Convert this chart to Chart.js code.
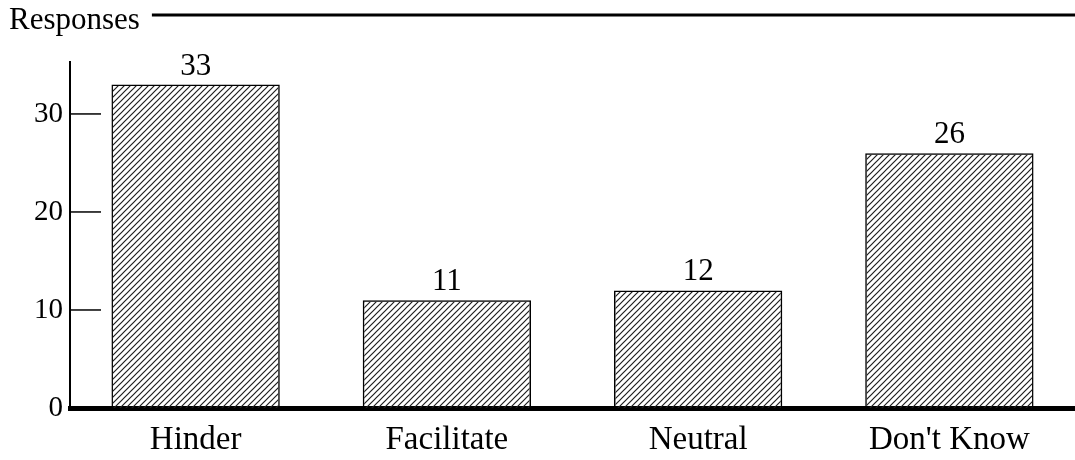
<!DOCTYPE html>
<html>
<head>
<meta charset="utf-8">
<script src="https://cdn.jsdelivr.net/npm/chart.js@4/dist/chart.umd.min.js"></script>
<style>
  html, body { margin: 0; padding: 0; background: #fff; overflow: hidden; }
  #wrap { width: 1075px; height: 460px; }
</style>
</head>
<body>
<div id="wrap"><canvas id="bar-chart" width="1075" height="460"></canvas></div>
<script>
// chart data
const categories = ['Hinder', 'Facilitate', 'Neutral', "Don't Know"];
const responses = [33, 11, 12, 26];
const yTicks = [0, 10, 20, 30];
const axisTitle = 'Responses';

const serif = "'Liberation Serif', 'Times New Roman', serif";

// diagonal hatch fill for the bars
function makeHatch() {
  const c = document.createElement('canvas');
  c.width = 6;
  c.height = 6;
  const g = c.getContext('2d');
  g.strokeStyle = '#1e1e1e';
  g.lineWidth = 1.2;
  g.beginPath();
  g.moveTo(-1, 7); g.lineTo(7, -1);
  g.moveTo(-1, 1); g.lineTo(1, -1);
  g.moveTo(5, 7); g.lineTo(7, 5);
  g.stroke();
  return g.createPattern(c, 'repeat');
}

// "Responses" heading + the rule running to the right edge
const headerPlugin = {
  id: 'header',
  afterDraw(chart) {
    const ctx = chart.ctx;
    ctx.save();
    ctx.fillStyle = '#000';
    ctx.font = '31px ' + serif;
    ctx.textBaseline = 'alphabetic';
    ctx.textAlign = 'left';
    ctx.fillText(axisTitle, 9, 29);
    const w = ctx.measureText(axisTitle).width;
    ctx.strokeStyle = '#000';
    ctx.lineWidth = 3;
    ctx.beginPath();
    ctx.moveTo(9 + w + 12, 15);
    ctx.lineTo(chart.width, 15);
    ctx.stroke();
    ctx.restore();
  }
};

// tick marks drawn inward from the y axis
const innerTicksPlugin = {
  id: 'innerTicks',
  afterDraw(chart) {
    const y = chart.scales.y;
    const ctx = chart.ctx;
    ctx.save();
    ctx.strokeStyle = '#000';
    ctx.lineWidth = 1.5;
    y.ticks.forEach(t => {
      if (t.value === 0) return;
      const py = y.getPixelForValue(t.value);
      ctx.beginPath();
      ctx.moveTo(chart.chartArea.left, py);
      ctx.lineTo(chart.chartArea.left + 31, py);
      ctx.stroke();
    });
    ctx.restore();
  }
};

// numbers above each bar
const valueLabelsPlugin = {
  id: 'valueLabels',
  afterDatasetsDraw(chart) {
    const ctx = chart.ctx;
    const meta = chart.getDatasetMeta(0);
    ctx.save();
    ctx.fillStyle = '#000';
    ctx.font = '31px ' + serif;
    ctx.textAlign = 'center';
    ctx.textBaseline = 'alphabetic';
    meta.data.forEach((bar, i) => {
      ctx.fillText(String(responses[i]), bar.x, bar.y - 10);
    });
    ctx.restore();
  }
};

const ctx = document.getElementById('bar-chart').getContext('2d');
new Chart(ctx, {
  type: 'bar',
  data: {
    labels: categories,
    datasets: [{
      label: axisTitle,
      data: responses,
      backgroundColor: makeHatch(),
      borderColor: '#000',
      borderWidth: 1.5,
      borderSkipped: 'bottom',
      barPercentage: 0.67,
      categoryPercentage: 1.0
    }]
  },
  options: {
    responsive: false,
    animation: false,
    events: [],
    layout: { padding: { top: 62, left: 0, right: 0, bottom: 0 } },
    plugins: {
      legend: { display: false },
      tooltip: { enabled: false },
      title: { display: false }
    },
    scales: {
      x: {
        grid: { display: false, drawTicks: false },
        border: { display: true, color: '#000', width: 5 },
        ticks: {
          color: '#000',
          padding: 13,
          maxRotation: 0,
          font: { family: serif, size: 33 }
        },
        afterFit(scale) { scale.height = 52; }
      },
      y: {
        min: 0,
        max: 35.3,
        afterBuildTicks(scale) {
          scale.ticks = yTicks.map(v => ({ value: v }));
        },
        grid: { display: false, drawTicks: false },
        border: { display: true, color: '#000', width: 2 },
        ticks: {
          color: '#000',
          padding: 7,
          font: { family: serif, size: 29 }
        },
        afterFit(scale) { scale.width = 70; }
      }
    }
  },
  plugins: [headerPlugin, innerTicksPlugin, valueLabelsPlugin]
});
</script>
</body>
</html>
